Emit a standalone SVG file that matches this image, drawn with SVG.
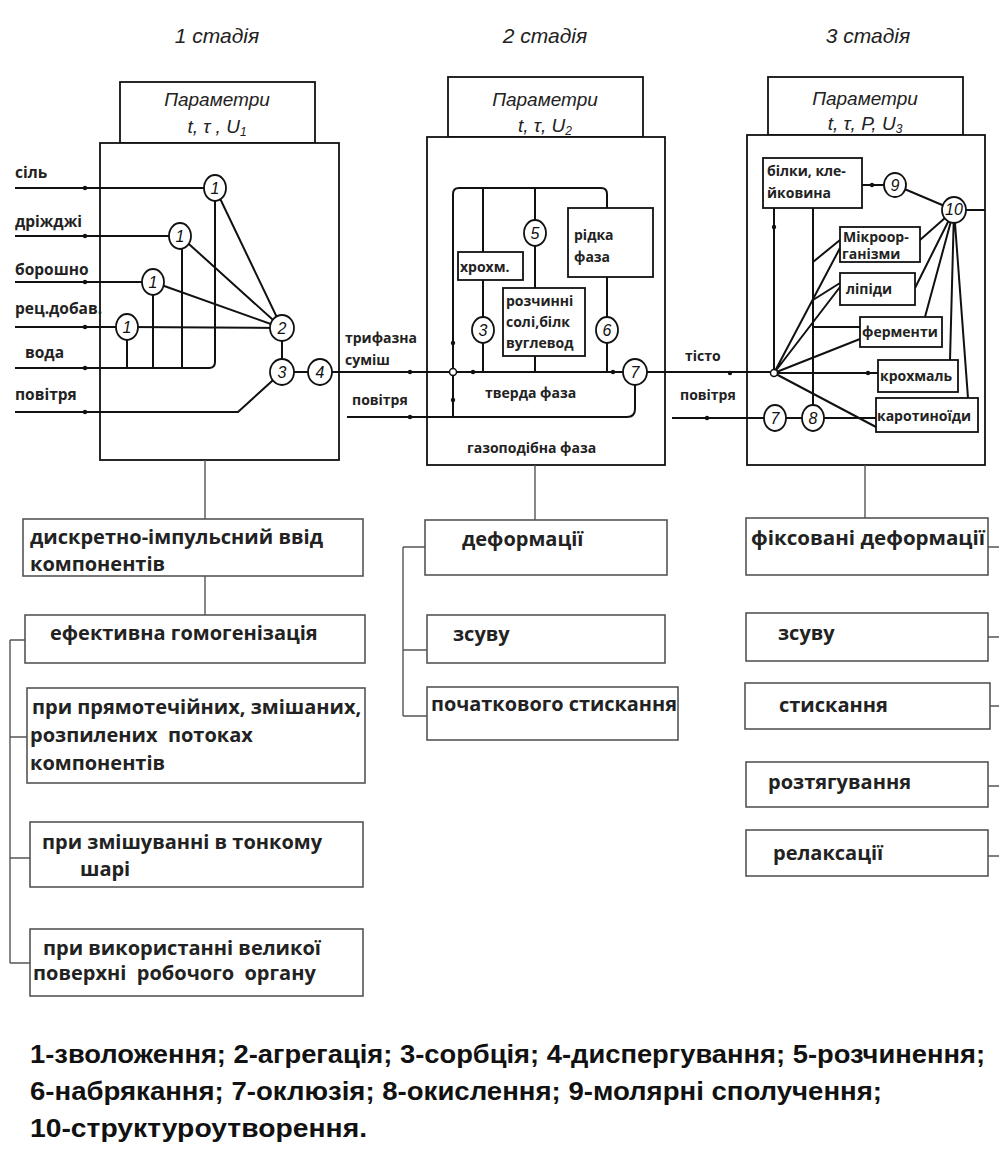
<svg xmlns="http://www.w3.org/2000/svg" width="999" height="1162" viewBox="0 0 999 1162">
<style>
.ln{stroke:#111;stroke-width:2;fill:none}
.bx{stroke:#111;stroke-width:1.8;fill:#fff}
.ib{stroke:#111;stroke-width:1.8;fill:#fff}
.c{stroke:#111;stroke-width:1.8;fill:#fff}
.n{font-family:"Liberation Sans",sans-serif;font-style:italic;font-size:16px;text-anchor:middle;fill:#111}
.lb{font-family:"Open Sans","Liberation Sans",sans-serif;font-weight:bold;font-size:14px;fill:#222}
.lb1{font-family:"Open Sans","Liberation Sans",sans-serif;font-weight:bold;font-size:15.5px;fill:#222}
.bt{font-family:"Open Sans","Liberation Sans",sans-serif;font-weight:bold;font-size:20px;fill:#222}
.ob{stroke:#555;stroke-width:1.6;fill:#fff}
.ol{stroke:#555;stroke-width:1.4;fill:none}
.hd{font-family:"Liberation Sans",sans-serif;font-style:italic;font-size:21px;fill:#222;text-anchor:middle}
.pm{font-family:"Liberation Sans",sans-serif;font-style:italic;font-size:19px;fill:#222;text-anchor:middle}
.lg{font-family:"Liberation Sans Narrow","Liberation Sans",sans-serif;font-weight:bold;font-size:25px;fill:#111}
.dot{fill:#111}
</style>

<g id="headers">
<text class="hd" x="217" y="43">1 стадія</text>
<text class="hd" x="545" y="43">2 стадія</text>
<text class="hd" x="868" y="43">3 стадія</text>
</g>

<g id="stage1-frame">
<rect class="bx" x="120" y="82" width="195" height="61"/>
<text class="pm" x="217" y="106">Параметри</text>
<text class="pm" x="217" y="133">t, τ , U<tspan font-size="12" dy="3">1</tspan></text>
<rect class="bx" x="100" y="143" width="239" height="317"/>
</g>
<g id="stage2-frame">
<rect class="bx" x="448" y="77" width="195" height="60"/>
<text class="pm" x="545" y="106">Параметри</text>
<text class="pm" x="545" y="132">t,  τ,  U<tspan font-size="12" dy="3">2</tspan></text>
<rect class="bx" x="427" y="137" width="238" height="328"/>
</g>
<g id="stage3-frame">
<rect class="bx" x="768" y="77" width="195" height="58"/>
<text class="pm" x="865" y="105">Параметри</text>
<text class="pm" x="865" y="130">t, τ, P, U<tspan font-size="12" dy="3">3</tspan></text>
<rect class="bx" x="747" y="135" width="238" height="330"/>
</g>

<g id="connectors">
<path class="ln" d="M15,188 H204"/>
<path class="ln" d="M15,236 H169"/>
<path class="ln" d="M15,282 H142"/>
<path class="ln" d="M15,327 H116"/>
<path class="ln" d="M15,368 H209 Q215,368 215,362 V201"/>
<path class="ln" d="M127,340 V368 M153,295 V368 M182,249 V368"/>
<path class="ln" d="M215,188 L282,328 M180,236 L282,328 M153,282 L282,328 M127,327 L282,328"/>
<path class="ln" d="M282,328 V372"/>
<path class="ln" d="M15,412 H238 L282,372"/>
<path class="ln" d="M282,372 H774"/>
<path class="ln" d="M453,417 V194 Q453,188 459,188 H601 Q607,188 607,194 V208"/>
<path class="ln" d="M483,188 V252 M483,280 V372"/>
<path class="ln" d="M535,188 V288 M535,356 V372"/>
<path class="ln" d="M607,277 V372"/>
<path class="ln" d="M347,417 H627 Q635,417 635,409 V385"/>
<path class="ln" d="M774,208 V373"/>
<path class="ln" d="M813,208 V405"/>
<path class="ln" d="M862,185 H884"/>
<path class="ln" d="M895,185 L954,210"/>
<path class="ln" d="M966,210 H985"/>
<path class="ln" d="M774,373 L840,248 M774,373 L840,287 M774,373 L860,339 M774,373 H878 M774,373 L876,427"/>
<path class="ln" d="M813,262 L840,240 M813,300 L840,283 M813,327 H860"/>
<path class="ln" d="M954,210 L920,240 M954,210 L915,288 M954,210 L925,317 M954,210 L950,360 M954,210 L968,398"/>
<path class="ln" d="M672,418 H876"/>
<g class="dot">
<circle cx="85" cy="188" r="2.2"/><circle cx="85" cy="236" r="2.2"/><circle cx="85" cy="282" r="2.2"/>
<circle cx="85" cy="327" r="2.2"/><circle cx="85" cy="368" r="2.2"/><circle cx="85" cy="412" r="2.2"/>
<circle cx="410" cy="417" r="2.2"/><circle cx="473" cy="372" r="2.2"/><circle cx="613" cy="372" r="2.2"/>
<circle cx="453" cy="343" r="2.2"/><circle cx="453" cy="400" r="2.2"/><circle cx="410" cy="372" r="2.2"/>
<circle cx="730" cy="373" r="2.2"/><circle cx="707" cy="418" r="2.2"/><circle cx="774" cy="227" r="2.2"/>
<circle cx="872" cy="185" r="2.2"/><circle cx="868" cy="373" r="2.2"/>
</g>
<circle cx="453" cy="372" r="3.5" fill="#fff" stroke="#111" stroke-width="1.5"/>
<circle cx="774" cy="373" r="3.5" fill="#fff" stroke="#111" stroke-width="1.5"/>
<path class="ol" d="M205,460 V519 M205,576 V615"/>
<path class="ol" d="M10,640 H25 M10,640 V963 M10,737 H27 M10,858 H30 M10,963 H30"/>
<path class="ol" d="M535,465 V520"/>
<path class="ol" d="M403,547 H425 M403,547 V716 M403,650 H427 M403,716 H427"/>
<path class="ol" d="M865,465 V518"/>
<path class="ol" d="M988,547 H999 M988,637 H999 M990,706 H999 M988,786 H999 M988,856 H999"/>
</g>

<g id="s1-labels">
<text class="lb1" x="15" y="178">сіль</text>
<text class="lb1" x="15" y="227">дріжджі</text>
<text class="lb1" x="15" y="275">борошно</text>
<text class="lb1" x="15" y="314">рец.добав.</text>
<text class="lb1" x="25" y="358">вода</text>
<text class="lb1" x="15" y="400">повітря</text>
</g>
<g id="s1-c1a"><ellipse class="c" cx="215" cy="188" rx="11" ry="13"/><text class="n" x="215" y="194">1</text></g>
<g id="s1-c1b"><ellipse class="c" cx="180" cy="236" rx="11" ry="13"/><text class="n" x="180" y="242">1</text></g>
<g id="s1-c1c"><ellipse class="c" cx="153" cy="282" rx="11" ry="13"/><text class="n" x="153" y="288">1</text></g>
<g id="s1-c1d"><ellipse class="c" cx="127" cy="327" rx="11" ry="13"/><text class="n" x="127" y="333">1</text></g>
<g id="s1-c2"><ellipse class="c" cx="282" cy="328" rx="12" ry="13"/><text class="n" x="282" y="334">2</text></g>
<g id="s1-c3"><ellipse class="c" cx="282" cy="372" rx="12" ry="13"/><text class="n" x="282" y="378">3</text></g>
<g id="s1-c4"><ellipse class="c" cx="320" cy="372" rx="12" ry="13"/><text class="n" x="320" y="378">4</text></g>

<g id="s2-labels">
<text class="lb" x="345" y="343">трифазна</text>
<text class="lb" x="345" y="365">суміш</text>
<text class="lb" x="352" y="405">повітря</text>
<text class="lb" x="485" y="398">тверда фаза</text>
<text class="lb" x="467" y="453">газоподібна фаза</text>
</g>
<g id="s2-krohm"><rect class="ib" x="458" y="252" width="65" height="28"/><text class="lb" x="460" y="272">хрохм.</text></g>
<g id="s2-rozch"><rect class="ib" x="503" y="288" width="82" height="68"/>
<text class="lb" x="506" y="306">розчинні</text><text class="lb" x="506" y="327">солі,білк</text><text class="lb" x="506" y="348">вуглевод</text></g>
<g id="s2-ridka"><rect class="ib" x="568" y="208" width="85" height="69"/>
<text class="lb" x="574" y="240">рідка</text><text class="lb" x="574" y="262">фаза</text></g>
<g id="s2-c5"><ellipse class="c" cx="535" cy="233" rx="11" ry="13"/><text class="n" x="535" y="239">5</text></g>
<g id="s2-c3"><ellipse class="c" cx="483" cy="330" rx="11" ry="13"/><text class="n" x="483" y="336">3</text></g>
<g id="s2-c6"><ellipse class="c" cx="607" cy="330" rx="11" ry="13"/><text class="n" x="607" y="336">6</text></g>
<g id="s2-c7"><ellipse class="c" cx="635" cy="372" rx="12" ry="13"/><text class="n" x="635" y="378">7</text></g>

<g id="s3-labels">
<text class="lb" x="685" y="361">тісто</text>
<text class="lb" x="680" y="400">повітря</text>
</g>
<g id="s3-bilky"><rect class="ib" x="763" y="158" width="99" height="50"/>
<text class="lb" x="767" y="176">білки, кле-</text><text class="lb" x="767" y="198">йковина</text></g>
<g id="s3-mikro"><rect class="ib" x="840" y="227" width="80" height="35"/>
<text class="lb" x="843" y="242">Мікроор-</text><text class="lb" x="842" y="259">ганізми</text></g>
<g id="s3-lipidy"><rect class="ib" x="840" y="273" width="75" height="32"/><text class="lb" x="846" y="294">ліпіди</text></g>
<g id="s3-fermenty"><rect class="ib" x="860" y="317" width="82" height="30"/><text class="lb" x="862" y="337">ферменти</text></g>
<g id="s3-krohmal"><rect class="ib" x="878" y="360" width="80" height="32"/><text class="lb" x="880" y="381">крохмаль</text></g>
<g id="s3-karot"><rect class="ib" x="876" y="398" width="102" height="34"/><text class="lb" x="877" y="421">каротиноїди</text></g>
<g id="s3-c7"><ellipse class="c" cx="775" cy="418" rx="11" ry="13"/><text class="n" x="775" y="424">7</text></g>
<g id="s3-c8"><ellipse class="c" cx="813" cy="418" rx="11" ry="13"/><text class="n" x="813" y="424">8</text></g>
<g id="s3-c9"><ellipse class="c" cx="895" cy="185" rx="11" ry="12"/><text class="n" x="895" y="191">9</text></g>
<g id="s3-c10"><ellipse class="c" cx="954" cy="210" rx="12" ry="13"/><text class="n" x="954" y="215" font-size="12">10</text></g>

<g id="b1-a"><rect class="ob" x="23" y="519" width="340" height="57"/>
<text class="bt" x="30" y="544" font-size="19" textLength="293" lengthAdjust="spacingAndGlyphs">дискретно-імпульсний ввід</text><text class="bt" x="30" y="571" font-size="19">компонентів</text></g>
<g id="b1-b"><rect class="ob" x="25" y="615" width="340" height="48"/>
<text class="bt" x="50" y="640">ефективна гомогенізація</text></g>
<g id="b1-c"><rect class="ob" x="27" y="688" width="338" height="95"/>
<text class="bt" x="32" y="714">при прямотечійних, змішаних,</text>
<text class="bt" x="30" y="742" xml:space="preserve">розпилених  потоках</text>
<text class="bt" x="30" y="770">компонентів</text></g>
<g id="b1-d"><rect class="ob" x="30" y="822" width="333" height="65"/>
<text class="bt" x="42" y="849">при змішуванні в тонкому</text><text class="bt" x="80" y="876">шарі</text></g>
<g id="b1-e"><rect class="ob" x="30" y="929" width="333" height="67"/>
<text class="bt" x="43" y="955">при використанні великої</text>
<text class="bt" x="33" y="980" xml:space="preserve">поверхні  робочого  органу</text></g>

<g id="b2-a"><rect class="ob" x="425" y="520" width="242" height="55"/><text class="bt" x="462" y="546">деформації</text></g>
<g id="b2-b"><rect class="ob" x="427" y="615" width="238" height="48"/><text class="bt" x="453" y="641">зсуву</text></g>
<g id="b2-c"><rect class="ob" x="427" y="687" width="251" height="53"/><text class="bt" x="431" y="711" textLength="246" lengthAdjust="spacingAndGlyphs">початкового стискання</text></g>

<g id="b3-a"><rect class="ob" x="746" y="518" width="242" height="57"/><text class="bt" x="751" y="545" textLength="234" lengthAdjust="spacingAndGlyphs">фіксовані деформації</text></g>
<g id="b3-b"><rect class="ob" x="746" y="613" width="242" height="48"/><text class="bt" x="778" y="640">зсуву</text></g>
<g id="b3-c"><rect class="ob" x="745" y="683" width="245" height="46"/><text class="bt" x="779" y="712">стискання</text></g>
<g id="b3-d"><rect class="ob" x="746" y="762" width="242" height="45"/><text class="bt" x="768" y="789">розтягування</text></g>
<g id="b3-e"><rect class="ob" x="746" y="830" width="242" height="46"/><text class="bt" x="773" y="860">релаксації</text></g>

<g id="legend">
<text class="lg" x="30" y="1063" textLength="955" lengthAdjust="spacingAndGlyphs">1-зволоження; 2-агрегація; 3-сорбція; 4-диспергування; 5-розчинення;</text>
<text class="lg" x="30" y="1100" textLength="852" lengthAdjust="spacingAndGlyphs">6-набрякання; 7-оклюзія; 8-окислення; 9-молярні сполучення;</text>
<text class="lg" x="30" y="1137" textLength="337" lengthAdjust="spacingAndGlyphs">10-структуроутворення.</text>
</g>
</svg>
